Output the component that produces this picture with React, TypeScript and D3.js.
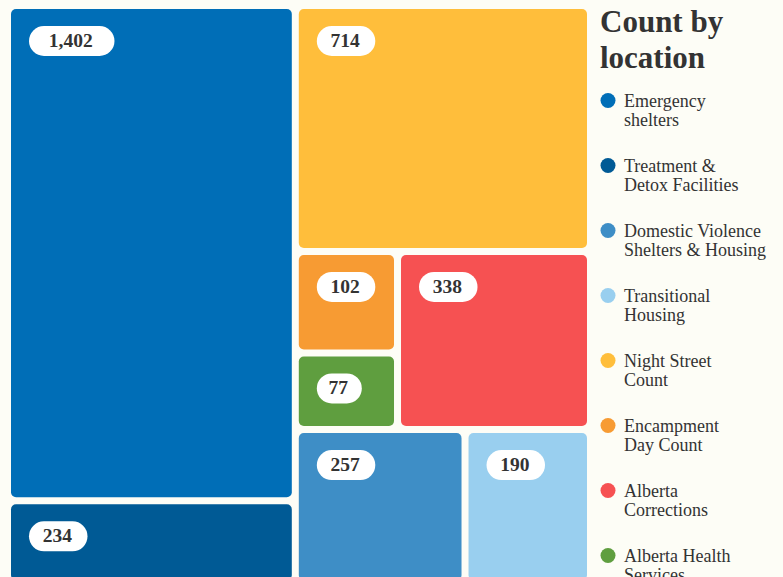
import React from "react";
import * as d3 from "d3";

const categories = [
  "Emergency shelters",
  "Treatment & Detox Facilities",
  "Domestic Violence Shelters & Housing",
  "Transitional Housing",
  "Night Street Count",
  "Encampment Day Count",
  "Alberta Corrections",
  "Alberta Health Services",
];
const values = [1402, 234, 257, 190, 714, 102, 338, 77];
const colors = ["#006EB7", "#005A95", "#3E8EC6", "#99CFEF", "#FFBE3B", "#F79B33", "#F65152", "#5F9E3F"];
const legendLines = [
  ["Emergency", "shelters"],
  ["Treatment &", "Detox Facilities"],
  ["Domestic Violence", "Shelters & Housing"],
  ["Transitional", "Housing"],
  ["Night Street", "Count"],
  ["Encampment", "Day Count"],
  ["Alberta", "Corrections"],
  ["Alberta Health", "Services"],
];
const titleLines = ["Count by", "location"];
// arrangement of the categories (by index) in the tiling
const grouping: any = [[0, 1], [4, [[[5, 7], 6], [2, 3]]]];

const W = 783;
const H = 577;
const FONT = "'Liberation Serif', 'Times New Roman', serif";
const INK = "#333333";
const BG = "#FDFDF6";

function toNode(g: any): any {
  if (typeof g === "number") return { name: categories[g], value: values[g], idx: g };
  return { children: g.map(toNode) };
}

const tile = (node: any, x0: number, y0: number, x1: number, y1: number) =>
  (x1 - x0 > y1 - y0 ? d3.treemapDice : d3.treemapSlice)(node, x0, y0, x1, y1);

export default function App() {
  const root = d3
    .hierarchy(toNode(grouping))
    .sum((d: any) => d.value ?? 0);
  d3.treemap<any>().tile(tile as any).size([576, 571]).paddingInner(7)(root as any);
  const leaves = root.leaves() as any[];
  const fmt = d3.format(",");
  const ox = 11;
  const oy = 9;

  return (
    <>
      <style>{`body{margin:0;background:${BG};}`}</style>
      <svg width={W} height={H} style={{ display: "block", background: BG }}>
        <g transform={`translate(${ox},${oy})`}>
          {leaves.map((l) => {
            const label = fmt(l.data.value);
            const pw = 18 + 13.5 * label.length;
            const px = l.x0 + 18;
            const py = l.y0 + 17;
            return (
              <g key={l.data.name}>
                <rect
                  x={l.x0}
                  y={l.y0}
                  width={l.x1 - l.x0}
                  height={l.y1 - l.y0}
                  rx={5}
                  fill={colors[l.data.idx]}
                />
                <rect x={px} y={py} width={pw} height={30} rx={15} fill="#ffffff" />
                <text
                  x={px + pw / 2 - 1}
                  y={py + 21}
                  textAnchor="middle"
                  fontFamily={FONT}
                  fontWeight="bold"
                  fontSize={19.5}
                  fill={INK}
                >
                  {label}
                </text>
              </g>
            );
          })}
        </g>
        <g fontFamily={FONT} fill={INK}>
          {titleLines.map((t, i) => (
            <text key={t} x={600} y={32 + i * 36} fontSize={31} fontWeight="bold">
              {t}
            </text>
          ))}
          {categories.map((c, i) => (
            <g key={c}>
              <circle cx={608} cy={100.5 + i * 65} r={7.5} fill={colors[i]} />
              {legendLines[i].map((line, j) => (
                <text key={j} x={624} y={107 + i * 65 + j * 18.5} fontSize={18}>
                  {line}
                </text>
              ))}
            </g>
          ))}
        </g>
      </svg>
    </>
  );
}
